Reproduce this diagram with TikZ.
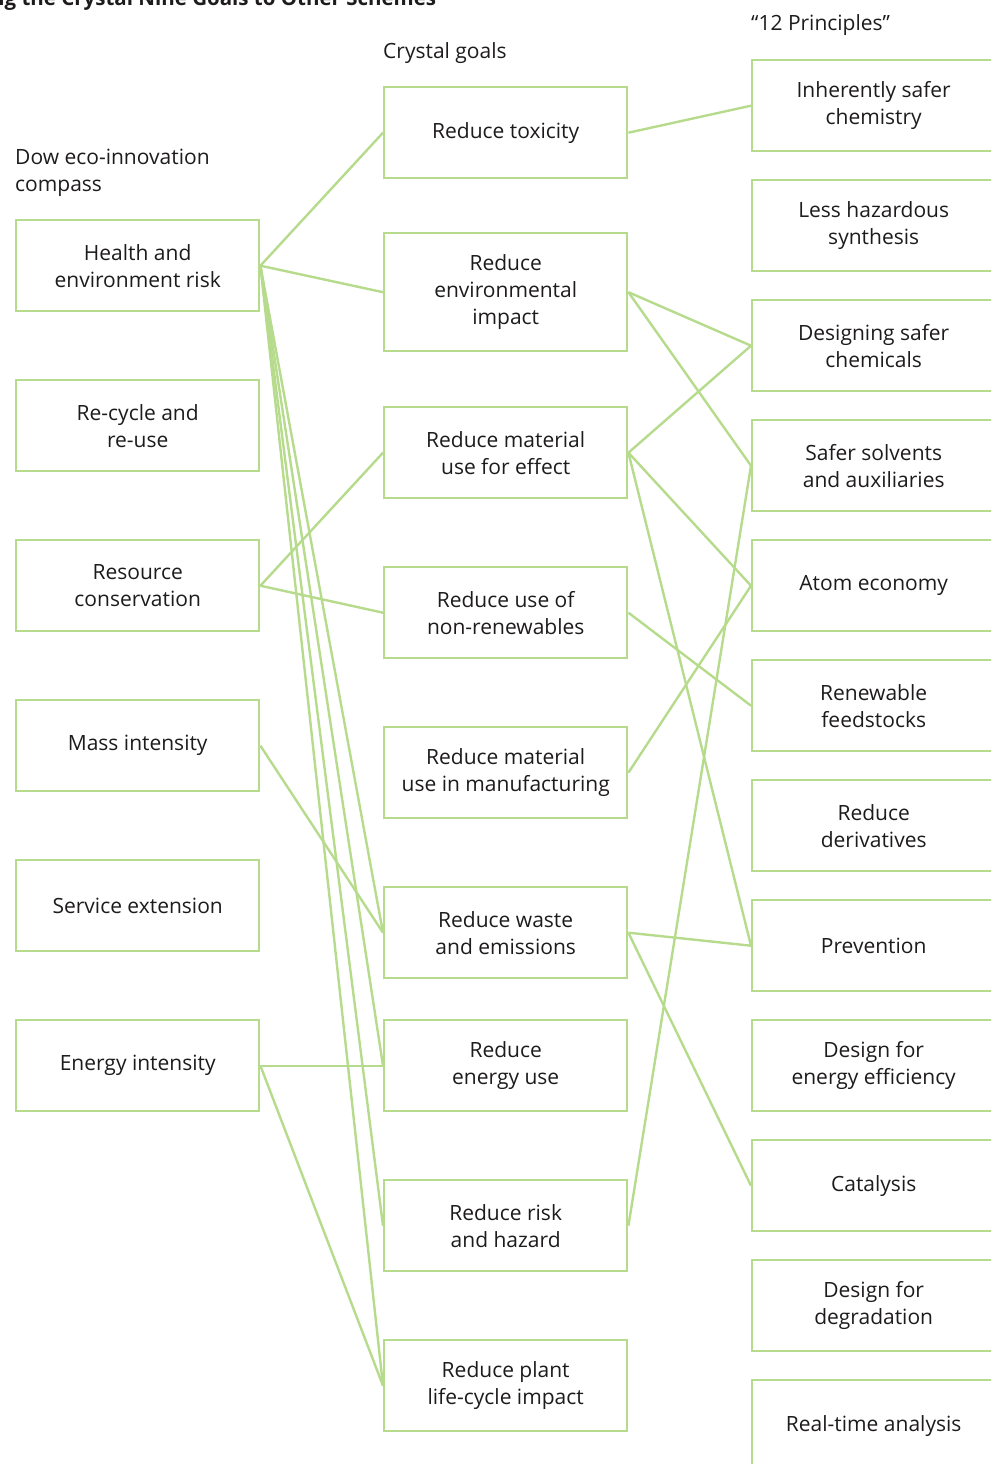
\documentclass[tikz,border=0pt]{standalone}
\usepackage{fontspec}
\setmainfont{Open Sans}
\definecolor{leaf}{RGB}{183,219,140}
\definecolor{ink}{RGB}{30,27,28}
\tikzset{
	box/.style={draw=leaf,line width=2.4pt,text=ink,minimum width=243pt,minimum height=91pt,anchor=north west,align=center,inner sep=0pt,font=\fontsize{21}{27}\selectfont},
	tallbox/.style={box,minimum height=118pt},
	head/.style={anchor=west,align=left,inner sep=0pt,text=ink,font=\fontsize{21}{27}\selectfont},
	link/.style={draw=leaf,line width=2.4pt}
}
\begin{document}
\begin{tikzpicture}[x=1pt,y=-1pt]
	\useasboundingbox (0,0) rectangle (991,1464);
	\clip (0,0) rectangle (991,1464);

	\node [anchor=base west,inner sep=0pt,text=ink,font=\bfseries\fontsize{20.5}{24}\selectfont] (title) at (-9,6) {ng the Crystal Nine Goals to Other Schemes};
	\node [head] (dow) at (15,173) {Dow eco-innovation\\compass};
	\node [head] (crystal) at (383,53) {Crystal goals};
	\node [head] (twelve) at (751,25) {“12 Principles”};

	% Dow compass
	\node [box] (dow1) at (15,219) {Health and\\environment risk};
	\node [box] (dow2) at (15,379) {Re-cycle and\\re-use};
	\node [box] (dow3) at (15,539) {Resource\\conservation};
	\node [box] (dow4) at (15,699) {Mass intensity};
	\node [box] (dow5) at (15,859) {Service extension};
	\node [box] (dow6) at (15,1019) {Energy intensity};

	% Crystal goals
	\node [box] (cry1) at (383,86) {Reduce toxicity};
	\node [tallbox] (cry2) at (383,232) {Reduce\\environmental\\impact};
	\node [box] (cry3) at (383,406) {Reduce material\\use for effect};
	\node [box] (cry4) at (383,566) {Reduce use of\\non-renewables};
	\node [box] (cry5) at (383,726) {Reduce material\\use in manufacturing};
	\node [box] (cry6) at (383,886) {Reduce waste\\and emissions};
	\node [box] (cry7) at (383,1019) {Reduce\\energy use};
	\node [box] (cry8) at (383,1179) {Reduce risk\\and hazard};
	\node [box] (cry9) at (383,1339) {Reduce plant\\life-cycle impact};

	% 12 principles
	\node [box] (pri1) at (751,59) {Inherently safer\\chemistry};
	\node [box] (pri2) at (751,179) {Less hazardous\\synthesis};
	\node [box] (pri3) at (751,299) {Designing safer\\chemicals};
	\node [box] (pri4) at (751,419) {Safer solvents\\and auxiliaries};
	\node [box] (pri5) at (751,539) {Atom economy};
	\node [box] (pri6) at (751,659) {Renewable\\feedstocks};
	\node [box] (pri7) at (751,779) {Reduce\\derivatives};
	\node [box] (pri8) at (751,899) {Prevention};
	\node [box] (pri9) at (751,1019) {Design for\\energy efficiency};
	\node [box] (pri10) at (751,1139) {Catalysis};
	\node [box] (pri11) at (751,1259) {Design for\\degradation};
	\node [box] (pri12) at (751,1379) {Real-time analysis};

	\draw [link] (dow1.east) -- (cry1.west);
	\draw [link] (dow1.east) -- (cry2.west);
	\draw [link] (dow1.east) -- (cry6.west);
	\draw [link] (dow1.east) -- (cry7.west);
	\draw [link] (dow1.east) -- (cry8.west);
	\draw [link] (dow1.east) -- (cry9.west);
	\draw [link] (dow3.east) -- (cry3.west);
	\draw [link] (dow3.east) -- (cry4.west);
	\draw [link] (dow4.east) -- (cry6.west);
	\draw [link] (dow6.east) -- (cry7.west);
	\draw [link] (dow6.east) -- (cry9.west);

	\draw [link] (cry1.east) -- (pri1.west);
	\draw [link] (cry2.east) -- (pri3.west);
	\draw [link] (cry2.east) -- (pri4.west);
	\draw [link] (cry3.east) -- (pri3.west);
	\draw [link] (cry3.east) -- (pri5.west);
	\draw [link] (cry3.east) -- (pri8.west);
	\draw [link] (cry4.east) -- (pri6.west);
	\draw [link] (cry5.east) -- (pri5.west);
	\draw [link] (cry6.east) -- (pri8.west);
	\draw [link] (cry6.east) -- (pri10.west);
	\draw [link] (cry8.east) -- (pri4.west);
\end{tikzpicture}
\end{document}
